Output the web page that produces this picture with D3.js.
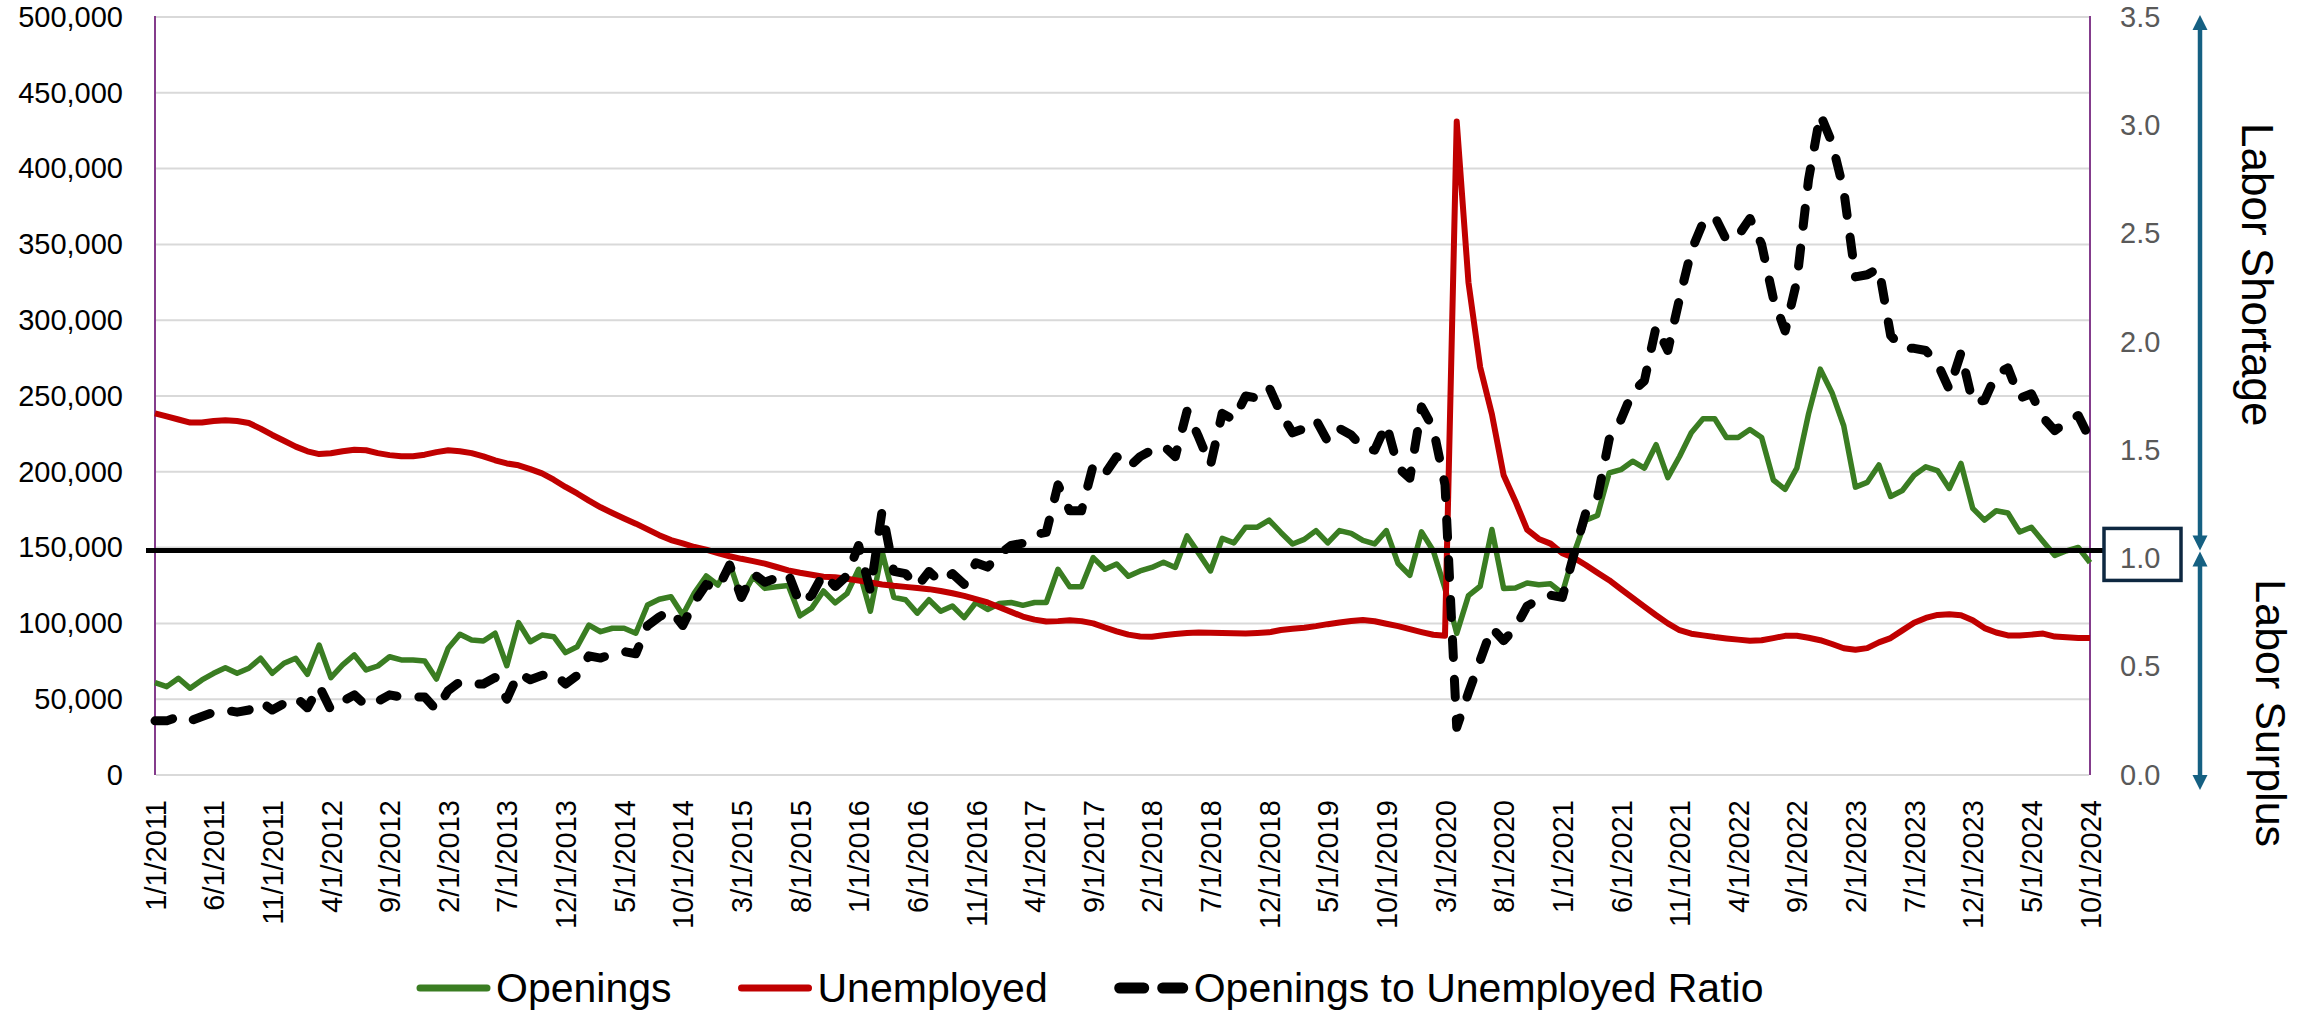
<!DOCTYPE html>
<html>
<head>
<meta charset="utf-8">
<script src="https://cdn.jsdelivr.net/npm/d3@7"></script>
<style>
body { margin: 0; background: #fff; }
svg text { font-family: "Liberation Sans", Arial, sans-serif; }
</style>
</head>
<body>
<div id="chart"></div>
<script>
// monthly categories, 1/1/2011 .. 10/1/2024
var firstYear = 2011;
var monthCount = 166;
var months = [];
for (var i = 0; i < monthCount; i++) {
  months.push(((i % 12) + 1) + '/1/' + (firstYear + Math.floor(i / 12)));
}

var tickLabels = ['1/1/2011','6/1/2011','11/1/2011','4/1/2012','9/1/2012','2/1/2013','7/1/2013',
  '12/1/2013','5/1/2014','10/1/2014','3/1/2015','8/1/2015','1/1/2016','6/1/2016','11/1/2016',
  '4/1/2017','9/1/2017','2/1/2018','7/1/2018','12/1/2018','5/1/2019','10/1/2019','3/1/2020',
  '8/1/2020','1/1/2021','6/1/2021','11/1/2021','4/1/2022','9/1/2022','2/1/2023','7/1/2023',
  '12/1/2023','5/1/2024','10/1/2024'];

var leftTicks = [0, 50000, 100000, 150000, 200000, 250000, 300000, 350000, 400000, 450000, 500000];
var rightTicks = [0, 0.5, 1.0, 1.5, 2.0, 2.5, 3.0, 3.5];

var openings = [
  60900, 58300, 63800, 57200, 62700, 67100, 70800, 67100, 70400, 77000,
  67100, 73700, 77000, 66400, 85700, 64200, 72600, 79200, 69300, 71900,
  78000, 75900, 75900, 75200, 63300, 83600, 92800, 89000, 88400, 93500,
  72100, 100500, 87900, 92300, 91200, 80700, 84600, 98900, 94500, 96800,
  96800, 93500, 112100, 115900, 117600, 105500, 120200, 131300, 125300, 139600,
  116500, 130800, 123100, 124200, 125000, 105000, 110100, 121400, 113500, 119600,
  135700, 108000, 147300, 117200, 115600, 106800, 115600, 108000, 111500, 103800,
  113800, 109200, 113100, 113800, 111900, 113800, 113800, 135700, 124200, 124200,
  143400, 135700, 139200, 131100, 134600, 136900, 140400, 136900, 157700, 146200,
  134600, 156100, 153100, 163500, 163500, 168100, 160000, 152400, 155400, 161200,
  153100, 161200, 159400, 154700, 152400, 161200, 139500, 131700, 160400, 147900,
  123000, 93400, 118300, 124500, 161900, 123000, 123400, 126700, 125500, 126100,
  119900, 146300, 168100, 171200, 199300, 201400, 207000, 202400, 217900, 196200,
  210100, 225700, 235000, 235000, 222600, 222600, 227900, 222600, 194600, 188400,
  202400, 238200, 267700, 252200, 230400, 189900, 193000, 204500, 183700, 187700,
  197700, 203300, 200800, 189000, 205500, 175900, 168100, 174300, 172800, 160300,
  163400, 154100, 144800, 147900, 150100, 140100
];

var unemployed = [
  238600, 236500, 234500, 232500, 232500, 233500, 234000, 233500, 232200, 228500,
  224300, 220500, 216600, 213500, 211700, 212200, 213600, 214600, 214200, 212300,
  211000, 210200, 210200, 211300, 213000, 214200, 213600, 212300, 210200, 207600,
  205500, 204300, 201800, 199000, 194800, 190000, 185700, 181000, 176600, 172800,
  169200, 165800, 162000, 158200, 155000, 152800, 150400, 148600, 146400, 144300,
  142600, 141100, 139400, 137200, 135000, 133400, 132100, 130800, 130400, 129500,
  128200, 127000, 125700, 124800, 124100, 123300, 122600, 121400, 119900, 118200,
  116000, 113800, 110700, 107600, 104500, 102500, 101200, 101500, 102000, 101500,
  100000, 97300, 94800, 92600, 91400, 91200, 92200, 93000, 93600, 94000,
  93900, 93700, 93500, 93400, 93700, 94100, 95600, 96400, 97100, 98200,
  99500, 100600, 101600, 102200, 101400, 99800, 98200, 96200, 94300, 92500,
  91800, 431000, 325000, 269000, 238000, 197700, 180600, 161900, 155700, 152600,
  146300, 143200, 138500, 133400, 128500, 122600, 116800, 111100, 105400, 100000,
  95500, 93200, 92100, 91000, 90100, 89300, 88600, 88900, 90300, 91800,
  91900, 90500, 88900, 86400, 83600, 82600, 83700, 87500, 90300, 95400,
  100400, 103600, 105600, 106000, 105400, 102000, 96900, 94000, 92100, 92000,
  92600, 93300, 91300, 90800, 90400, 90300
];

var ratio = [
  0.25, 0.25, 0.27, 0.25, 0.27, 0.29, 0.30, 0.29, 0.30, 0.34,
  0.30, 0.33, 0.36, 0.31, 0.41, 0.30, 0.34, 0.37, 0.32, 0.34,
  0.37, 0.36, 0.36, 0.36, 0.30, 0.39, 0.43, 0.42, 0.42, 0.45,
  0.35, 0.47, 0.44, 0.46, 0.47, 0.42, 0.46, 0.55, 0.54, 0.56,
  0.57, 0.56, 0.69, 0.73, 0.76, 0.69, 0.80, 0.88, 0.86, 0.97,
  0.82, 0.93, 0.89, 0.91, 0.93, 0.79, 0.83, 0.93, 0.87, 0.92,
  1.06, 0.85, 1.22, 0.94, 0.93, 0.87, 0.94, 0.89, 0.93, 0.88,
  0.98, 0.96, 1.02, 1.06, 1.07, 1.11, 1.12, 1.34, 1.22, 1.22,
  1.43, 1.39, 1.47, 1.42, 1.47, 1.50, 1.52, 1.47, 1.68, 1.56,
  1.43, 1.67, 1.64, 1.75, 1.74, 1.79, 1.67, 1.58, 1.60, 1.64,
  1.54, 1.60, 1.57, 1.51, 1.50, 1.62, 1.42, 1.37, 1.70, 1.60,
  1.34, 0.22, 0.38, 0.53, 0.68, 0.62, 0.68, 0.78, 0.81, 0.83,
  0.82, 1.02, 1.21, 1.28, 1.55, 1.64, 1.77, 1.82, 2.07, 1.96,
  2.20, 2.42, 2.55, 2.58, 2.47, 2.49, 2.57, 2.45, 2.20, 2.05,
  2.28, 2.75, 3.05, 2.92, 2.70, 2.30, 2.31, 2.34, 2.03, 1.97,
  1.97, 1.96, 1.90, 1.78, 1.95, 1.72, 1.73, 1.85, 1.88, 1.74,
  1.76, 1.65, 1.59, 1.63, 1.66, 1.55
];

var seriesNames = ['Openings', 'Unemployed', 'Openings to Unemployed Ratio'];
var balanceRatio = 1.0;
var shortageLabel = 'Labor Shortage';
var surplusLabel = 'Labor Surplus';

window.onload = function() {

var W = 2310, H = 1012;
var left = 155, right = 2090, top = 17, bottom = 775;
var green = '#3a7d22', red = '#c00000', blue = '#156082';

var svg = d3.select('#chart')
    .append('svg')
    .attr('width', W)
    .attr('height', H)
    .style('display', 'block');

var x = d3.scalePoint().domain(months).range([left, right]).padding(0);
var yL = d3.scaleLinear().domain([0, 500000]).range([bottom, top]);
var yR = d3.scaleLinear().domain([0, 3.5]).range([bottom, top]);

// plot frame (purple on three sides)
svg.append('path')
    .attr('d', 'M' + left + ',' + bottom + 'V' + top + 'H' + right + 'V' + bottom)
    .attr('fill', 'none')
    .attr('stroke', '#843c8c')
    .attr('stroke-width', 2);

// gridlines
svg.append('g')
  .selectAll('line')
  .data(leftTicks)
  .join('line')
    .attr('x1', left + 1)
    .attr('x2', right - 1)
    .attr('y1', function(d) { return yL(d); })
    .attr('y2', function(d) { return yL(d); })
    .attr('stroke', '#d9d9d9')
    .attr('stroke-width', 2);

// axes
var gL = svg.append('g')
    .attr('transform', 'translate(' + left + ',0)')
    .call(d3.axisLeft(yL).tickValues(leftTicks).tickFormat(d3.format(',')).tickSize(0).tickPadding(32));
gL.select('.domain').remove();
gL.attr('font-family', null).attr('font-size', 29);
gL.selectAll('text').attr('fill', '#000');

var gR = svg.append('g')
    .attr('transform', 'translate(' + right + ',0)')
    .call(d3.axisRight(yR).tickValues(rightTicks).tickFormat(d3.format('.1f')).tickSize(0).tickPadding(30));
gR.select('.domain').remove();
gR.attr('font-family', null).attr('font-size', 29);
gR.selectAll('text').attr('fill', '#595959');

var gX = svg.append('g')
    .attr('transform', 'translate(0,' + bottom + ')')
    .call(d3.axisBottom(x).tickValues(tickLabels).tickSize(0));
gX.select('.domain').remove();
gX.attr('font-family', null).attr('font-size', 29);
gX.selectAll('text')
    .attr('fill', '#000')
    .attr('transform', 'rotate(-90)')
    .attr('text-anchor', 'end')
    .attr('x', -25)
    .attr('y', 0)
    .attr('dy', '0.35em');

// series
var lineL = d3.line()
    .x(function(d, i) { return x(months[i]); })
    .y(function(d) { return yL(d); });
var lineR = d3.line()
    .x(function(d, i) { return x(months[i]); })
    .y(function(d) { return yR(d); });

svg.append('path')
    .datum(openings)
    .attr('d', lineL)
    .attr('fill', 'none')
    .attr('stroke', green)
    .attr('stroke-width', 5.5)
    .attr('stroke-linejoin', 'round');

svg.append('path')
    .datum(unemployed)
    .attr('d', lineL)
    .attr('fill', 'none')
    .attr('stroke', red)
    .attr('stroke-width', 6)
    .attr('stroke-linejoin', 'round');

svg.append('path')
    .datum(ratio)
    .attr('d', lineR)
    .attr('fill', 'none')
    .attr('stroke', '#000')
    .attr('stroke-width', 9)
    .attr('stroke-dasharray', '18 22')
    .attr('stroke-linecap', 'round')
    .attr('stroke-linejoin', 'round');

// balance line + boxed 1.0 (drawn shape sits slightly above the tick)
var balanceY = yR(balanceRatio) - 8;
var boxX = 2104, boxW = 77, boxH = 52;
svg.append('line')
    .attr('x1', left - 9)
    .attr('x2', boxX)
    .attr('y1', balanceY)
    .attr('y2', balanceY)
    .attr('stroke', '#000')
    .attr('stroke-width', 5);
svg.append('rect')
    .attr('x', boxX)
    .attr('y', yR(balanceRatio) - 4 - boxH / 2)
    .attr('width', boxW)
    .attr('height', boxH)
    .attr('fill', 'none')
    .attr('stroke', '#0e2841')
    .attr('stroke-width', 3.5);

// double arrows on the right
var ax = 2200, head = 15, half = 7.5;
function arrow(y1, y2) {
  var g = svg.append('g').attr('fill', blue).attr('stroke', 'none');
  g.append('line')
      .attr('x1', ax).attr('x2', ax)
      .attr('y1', y1 + head - 2).attr('y2', y2 - head + 2)
      .attr('stroke', blue).attr('stroke-width', 4.5);
  g.append('path').attr('d', 'M' + ax + ',' + y1 + 'L' + (ax - half) + ',' + (y1 + head) + 'L' + (ax + half) + ',' + (y1 + head) + 'Z');
  g.append('path').attr('d', 'M' + ax + ',' + y2 + 'L' + (ax - half) + ',' + (y2 - head) + 'L' + (ax + half) + ',' + (y2 - head) + 'Z');
}
arrow(yR(3.5) - 2, balanceY);
arrow(balanceY + 1, yR(0) + 15);

svg.append('text')
    .attr('transform', 'translate(2242,' + ((yR(3.5) + balanceY) / 2 - 9) + ') rotate(90)')
    .attr('text-anchor', 'middle')
    .attr('font-size', 44)
    .attr('fill', '#000')
    .text(shortageLabel);
svg.append('text')
    .attr('transform', 'translate(2256,' + ((balanceY + yR(0) + 15) / 2 + 43) + ') rotate(90)')
    .attr('text-anchor', 'middle')
    .attr('font-size', 43)
    .attr('fill', '#000')
    .text(surplusLabel);

// legend
var legY = 988;
var lx = 417;
var legend = svg.append('g').attr('font-size', 41);
seriesNames.forEach(function(name, k) {
  var s = legend.append('line')
      .attr('x1', lx + 5).attr('x2', lx + 68)
      .attr('y1', legY).attr('y2', legY)
      .attr('stroke-linecap', 'round');
  if (k === 0) s.attr('stroke', green).attr('stroke-width', 7).attr('x1', lx + 3).attr('x2', lx + 70);
  if (k === 1) s.attr('stroke', red).attr('stroke-width', 7).attr('x1', lx + 3).attr('x2', lx + 70);
  if (k === 2) s.attr('stroke', '#000').attr('stroke-width', 11).attr('stroke-dasharray', '24 19');
  var t = legend.append('text')
      .attr('x', lx + 79)
      .attr('y', legY)
      .attr('dy', '0.35em')
      .attr('fill', '#000')
      .text(name);
  lx = lx + 79 + t.node().getComputedTextLength() + 67;
});

};
</script>
</body>
</html>
